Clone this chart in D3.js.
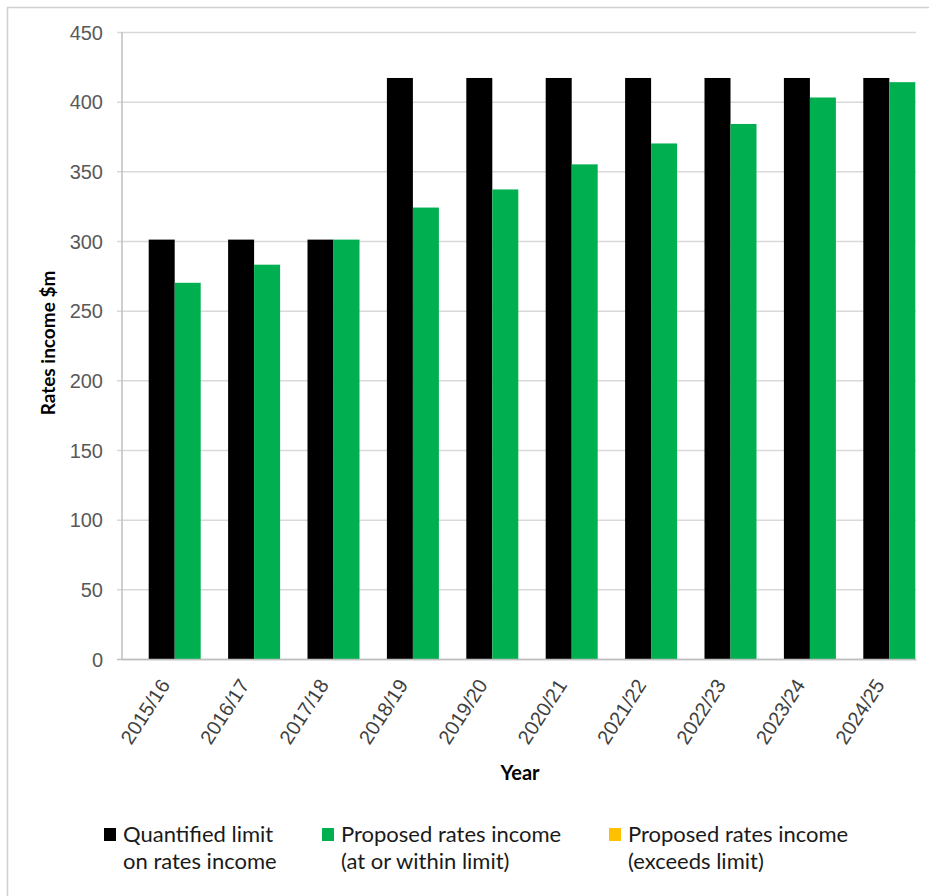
<!DOCTYPE html>
<html>
<head>
<meta charset="utf-8">
<script src="https://cdn.jsdelivr.net/npm/d3@7"></script>
<style>
  html, body { margin: 0; padding: 0; background: #fff; }
  svg { display: block; font-family: Lato, "Open Sans", sans-serif; }
</style>
</head>
<body>
<svg id="chart" width="929" height="896"></svg>
<script>
// Financial years on the category axis
const years = ["2015/16", "2016/17", "2017/18", "2018/19", "2019/20",
               "2020/21", "2021/22", "2022/23", "2023/24", "2024/25"];
// Quantified limit on rates income ($m)
const limitValues = [301, 301, 301, 417, 417, 417, 417, 417, 417, 417];
// Proposed rates income, at or within limit ($m)
const proposedValues = [270, 283, 301, 324, 337, 355, 370, 384, 403, 414];
// Proposed rates income exceeding the limit ($m) — none in this plan
const exceedValues = [0, 0, 0, 0, 0, 0, 0, 0, 0, 0];
const yTicks = [0, 50, 100, 150, 200, 250, 300, 350, 400, 450];
const legendItems = [
  { lines: ["Quantified limit", "on rates income"], color: "#000000" },
  { lines: ["Proposed rates income", "(at or within limit)"], color: "#00b050" },
  { lines: ["Proposed rates income", "(exceeds limit)"], color: "#ffc000" }
];

const svg = d3.select("#chart");
const plot = { left: 122, right: 916, top: 32, bottom: 659 };
const barW = 26;

// outer chart frame
svg.append("rect")
  .attr("x", 7.5).attr("y", 7.5)
  .attr("width", 940).attr("height", 900)
  .attr("fill", "none").attr("stroke", "#d0d0d0").attr("stroke-width", 1.5);

const x = d3.scaleBand().domain(years).range([plot.left, plot.right]);
const y = d3.scaleLinear().domain([0, 450]).range([plot.bottom, plot.top]);

// horizontal gridlines with short tick marks on the left
const yAxis = d3.axisLeft(y).tickValues(yTicks)
  .tickSize(-(plot.right - plot.left) - 5).tickSizeOuter(0).tickPadding(14)
  .tickFormat(d3.format("d"));
const gy = svg.append("g").attr("transform", `translate(${plot.left - 5},0)`).call(yAxis);
gy.select(".domain").remove();
gy.selectAll(".tick line").attr("stroke", "#d9d9d9").attr("stroke-width", 1.5)
  .attr("x1", 0);
gy.selectAll(".tick text").attr("fill", "#595959").style("font-size", "20px")
  .attr("dy", "0.36em");
gy.selectAll(".tick").filter(d => d === 0).select("line").attr("stroke", "#bfbfbf");

// vertical value-axis line
svg.append("line")
  .attr("x1", plot.left).attr("x2", plot.left)
  .attr("y1", plot.top).attr("y2", plot.bottom)
  .attr("stroke", "#bfbfbf").attr("stroke-width", 1.5);

// bars: limit centred on the category, proposed income beside it
const groups = svg.append("g").selectAll("g").data(years).join("g");
groups.append("rect")
  .attr("x", (d) => x(d) + x.bandwidth() / 2 - barW / 2)
  .attr("y", (d, i) => y(limitValues[i]))
  .attr("width", barW)
  .attr("height", (d, i) => y(0) - y(limitValues[i]))
  .attr("fill", "#000000");
groups.append("rect")
  .attr("x", (d) => x(d) + x.bandwidth() / 2 + barW / 2)
  .attr("y", (d, i) => y(proposedValues[i]))
  .attr("width", barW)
  .attr("height", (d, i) => y(0) - y(proposedValues[i]))
  .attr("fill", "#00b050");
groups.append("rect")
  .attr("x", (d) => x(d) + x.bandwidth() / 2 + barW / 2)
  .attr("y", (d, i) => y(proposedValues[i] + exceedValues[i]))
  .attr("width", barW)
  .attr("height", (d, i) => y(proposedValues[i]) - y(proposedValues[i] + exceedValues[i]))
  .attr("fill", "#ffc000");

// category axis labels, rotated
const xAxis = d3.axisBottom(x).tickSize(0).tickPadding(0);
const gx = svg.append("g").attr("transform", `translate(0,${plot.bottom})`).call(xAxis);
gx.select(".domain").attr("stroke", "#bfbfbf").attr("stroke-width", 1.5);
gx.selectAll(".tick text")
  .attr("fill", "#404040").style("font-size", "20px")
  .attr("text-anchor", "end")
  .attr("dy", 0)
  .attr("transform", "translate(9,26) rotate(-57)");

// axis titles
svg.append("text")
  .attr("x", 520).attr("y", 780)
  .attr("text-anchor", "middle")
  .style("font-size", "20px").style("font-weight", "bold").attr("fill", "#000")
  .text("Year");
svg.append("text")
  .attr("transform", "translate(55,343) rotate(-90)")
  .attr("text-anchor", "middle")
  .style("font-size", "19px").style("font-weight", "bold").attr("fill", "#000")
  .text("Rates income $m");

// legend
const legendX = [104, 322, 609];
const lg = svg.append("g").selectAll("g").data(legendItems).join("g")
  .attr("transform", (d, i) => `translate(${legendX[i]},0)`);
lg.append("rect").attr("x", 0).attr("y", 828).attr("width", 12).attr("height", 13)
  .attr("fill", d => d.color);
lg.append("text")
  .attr("x", 19).attr("y", 842)
  .style("font-size", "22px").attr("fill", "#1a1a1a")
  .selectAll("tspan").data(d => d.lines).join("tspan")
  .attr("x", 19).attr("dy", (d, i) => i === 0 ? 0 : 27)
  .text(d => d);
</script>
</body>
</html>
